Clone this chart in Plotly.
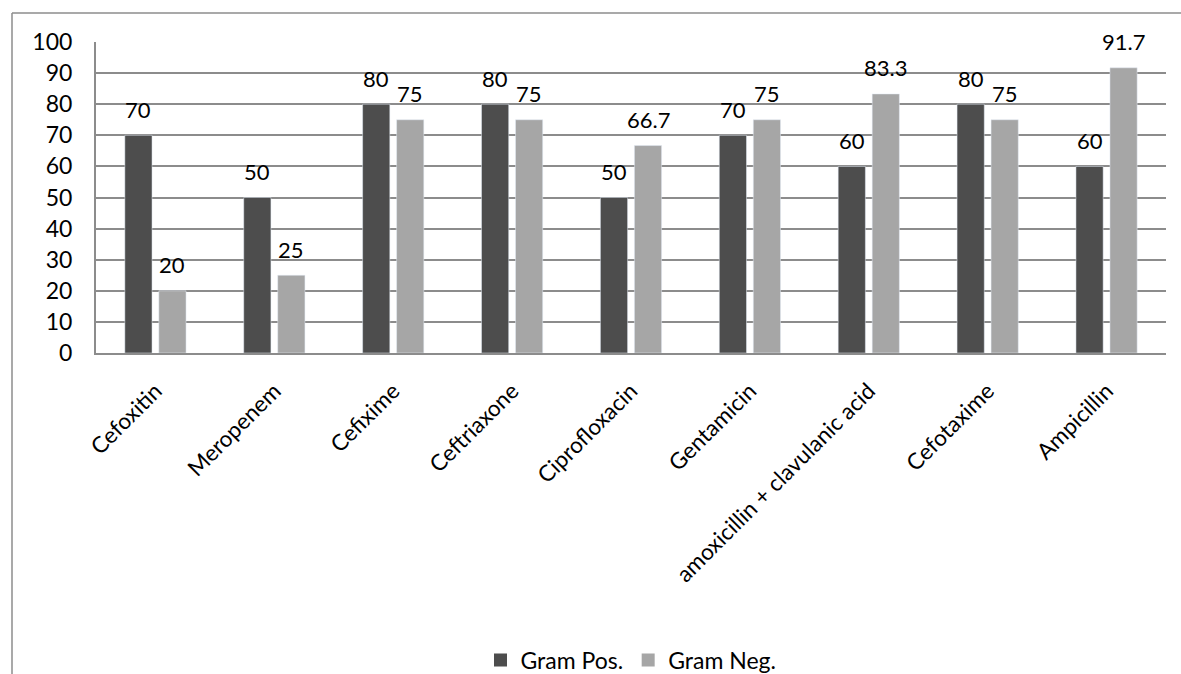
import plotly.graph_objects as go

categories = ["Cefoxitin", "Meropenem", "Cefixime", "Ceftriaxone", "Ciprofloxacin",
              "Gentamicin", "amoxicillin + clavulanic acid", "Cefotaxime", "Ampicillin"]
gram_pos = [70, 50, 80, 80, 50, 70, 60, 80, 60]
gram_neg = [20, 25, 75, 75, 66.7, 75, 83.3, 75, 91.7]
y_ticks = [0, 10, 20, 30, 40, 50, 60, 70, 80, 90, 100]

FONT = "Lato, Carlito, Calibri, 'Liberation Sans', sans-serif"
DARK = "#4d4d4d"
LIGHT = "#a6a6a6"

fig = go.Figure()
fig.add_trace(go.Bar(x=categories, y=gram_pos, name="Gram Pos.", marker_color=DARK,
                     showlegend=False))
fig.add_trace(go.Bar(x=categories, y=gram_neg, name="Gram Neg.", marker_color=LIGHT,
                     showlegend=False))
# legend entries with larger square swatches
for name, col in (("Gram Pos.", DARK), ("Gram Neg.", LIGHT)):
    fig.add_trace(go.Scatter(x=[None], y=[None], mode="markers", name=name,
                             marker=dict(symbol="square", size=13, color=col)))

# data labels above bars
annotations = []
for series, shift in ((gram_pos, -17), (gram_neg, 17)):
    for c, v in zip(categories, series):
        annotations.append(dict(x=c, y=v, xref="x", yref="y", text=f"{v:g}",
                                showarrow=False, xshift=shift, yshift=26,
                                yanchor="middle", font=dict(family=FONT, size=22, color="#000")))

W, H = 1181, 674
ml, mr, mt, mb = 96, 15, 42, 321
pw, ph = W - ml - mr, H - mt - mb
def px_x(p): return (p - ml) / pw
def px_y(p): return (H - mb - p) / ph

fig.update_layout(
    width=W, height=H,
    margin=dict(l=ml, r=mr, t=mt, b=mb, autoexpand=False),
    paper_bgcolor="white", plot_bgcolor="white",
    barmode="group", bargap=0.428, bargroupgap=0.2,
    font=dict(family=FONT, size=21, color="#000"),
    annotations=annotations,
    showlegend=True,
    legend=dict(orientation="h", x=0.5, xanchor="center", y=px_y(660), yanchor="middle",
                font=dict(family=FONT, size=23), itemwidth=30, traceorder="normal"),
    shapes=[
        dict(type="line", xref="paper", yref="paper", x0=px_x(12), x1=px_x(12),
             y0=px_y(13), y1=px_y(690), line=dict(color="#8c8c8c", width=1.5)),
        dict(type="line", xref="paper", yref="paper", x0=px_x(12), x1=px_x(1195),
             y0=px_y(13), y1=px_y(13), line=dict(color="#8c8c8c", width=1.5)),
    ],
)
fig.update_xaxes(showline=True, linecolor="#8c8c8c", linewidth=2, mirror=False,
                 tickangle=-45, tickfont=dict(family=FONT, size=22.5), ticks="",
                 ticklabelstandoff=14, automargin=False)
fig.update_yaxes(range=[0, 100], tickvals=y_ticks, showgrid=True, gridcolor="#8c8c8c",
                 gridwidth=1.5, showline=True, linecolor="#8c8c8c", linewidth=2,
                 ticks="", tickfont=dict(family=FONT, size=23), ticklabelstandoff=17,
                 zeroline=False, automargin=False)

fig.write_html("out.html", config={"displayModeBar": False},
               post_script="document.body.style.margin='0';document.body.style.overflow='hidden';")
